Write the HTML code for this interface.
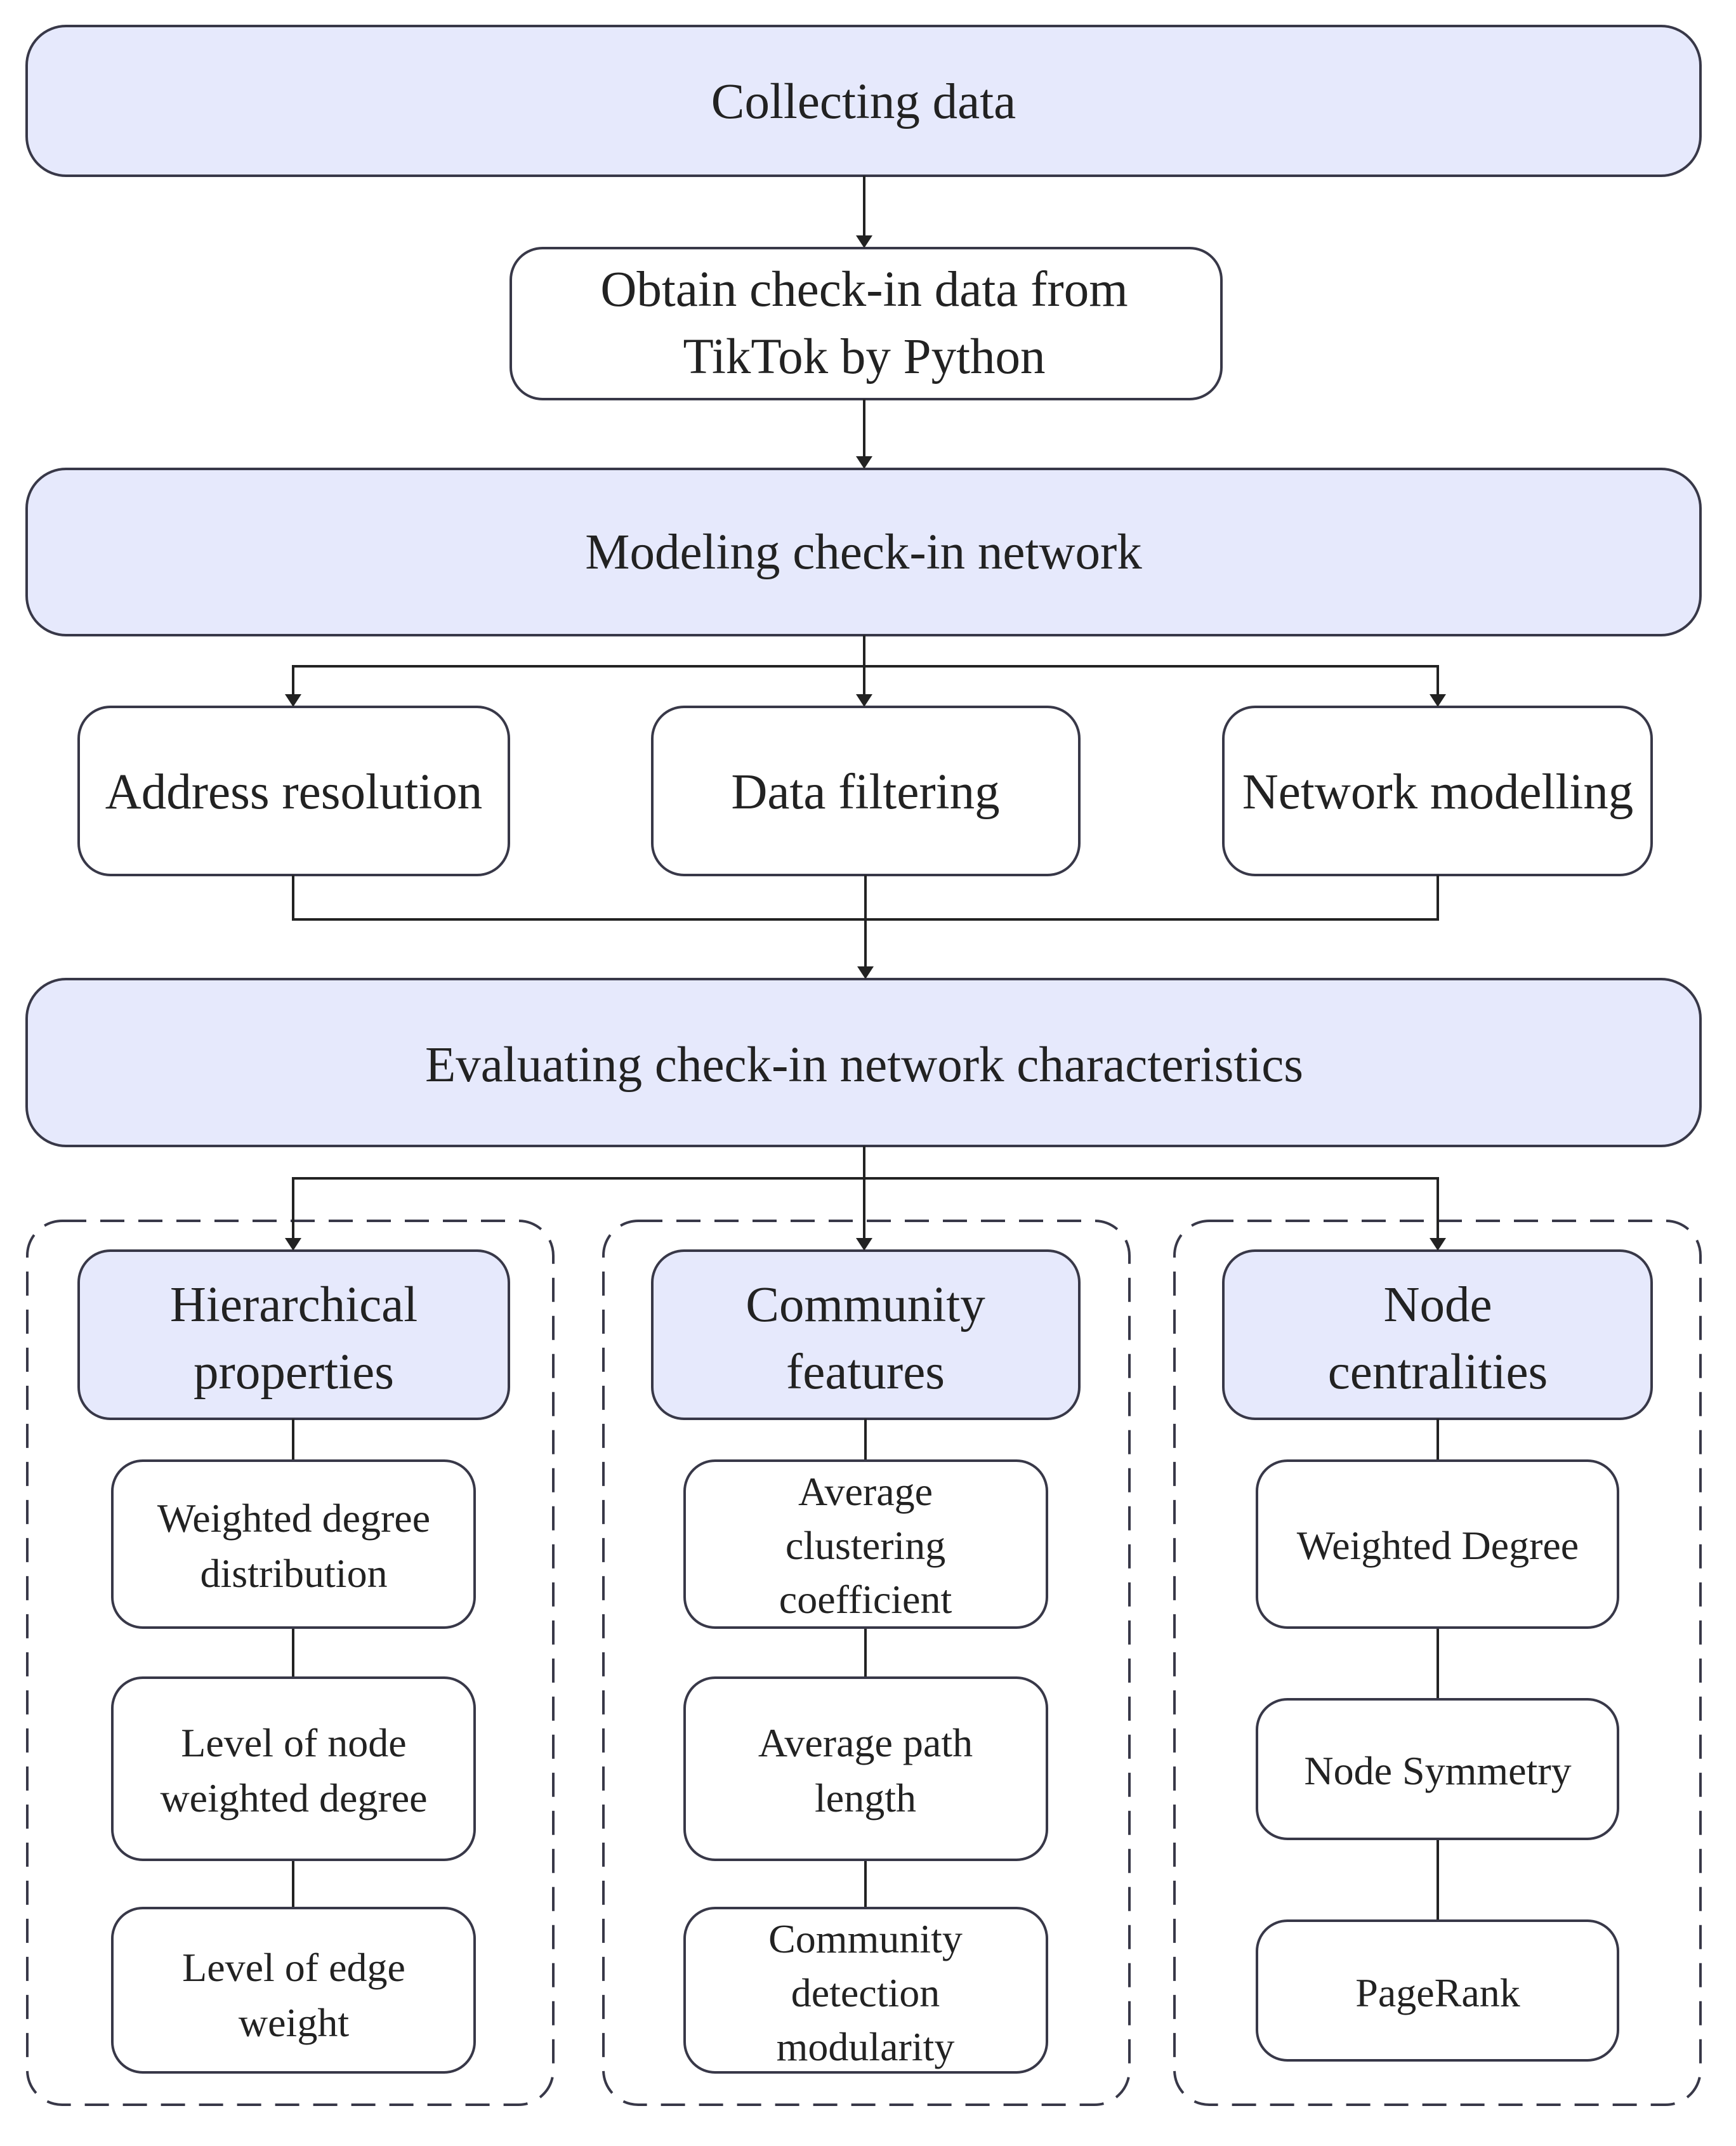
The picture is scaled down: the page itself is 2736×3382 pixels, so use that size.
<!DOCTYPE html>
<html><head><meta charset="utf-8"><style>
html,body{margin:0;padding:0;background:#fff;}
svg{display:block;}
text{font-family:"Liberation Serif",serif;fill:#222;text-anchor:middle;}
</style></head><body>
<svg width="2736" height="3382" viewBox="0 0 2736 3382" xmlns="http://www.w3.org/2000/svg">
<g stroke="#383848" stroke-width="4">
<rect x="42" y="41" width="2638" height="236" rx="62" fill="#e6e9fc"/>
<rect x="805" y="391" width="1120" height="238" rx="50" fill="#fff"/>
<rect x="42" y="739" width="2638" height="262" rx="62" fill="#e6e9fc"/>
<rect x="124" y="1114" width="678" height="265" rx="50" fill="#fff"/>
<rect x="1028" y="1114" width="673" height="265" rx="50" fill="#fff"/>
<rect x="1928" y="1114" width="675" height="265" rx="50" fill="#fff"/>
<rect x="42" y="1543" width="2638" height="263" rx="62" fill="#e6e9fc"/>
<g fill="none" stroke-dasharray="38,22">
<rect x="43" y="1924" width="829" height="1393" rx="55"/>
<rect x="951" y="1924" width="829" height="1393" rx="55"/>
<rect x="1851" y="1924" width="829" height="1393" rx="55"/>
</g>
<rect x="124" y="1971" width="678" height="265" rx="50" fill="#e6e9fc"/>
<rect x="1028" y="1971" width="673" height="265" rx="50" fill="#e6e9fc"/>
<rect x="1928" y="1971" width="675" height="265" rx="50" fill="#e6e9fc"/>
<g fill="none" stroke-width="4" stroke="#222">
<line x1="1362" y1="277" x2="1362" y2="378"/>
<line x1="1362" y1="629" x2="1362" y2="726"/>
<line x1="1362" y1="1001" x2="1362" y2="1100"/>
<polyline points="462,1100 462,1050 2266,1050 2266,1100"/>
<polyline points="462,1379 462,1449 2266,1449 2266,1379"/>
<line x1="1364" y1="1379" x2="1364" y2="1530"/>
<line x1="1362" y1="1806" x2="1362" y2="1957"/>
<polyline points="462,1957 462,1857 2266,1857 2266,1957"/>
<line x1="462" y1="2236" x2="462" y2="3010"/>
<line x1="1364" y1="2236" x2="1364" y2="3010"/>
<line x1="2266" y1="2236" x2="2266" y2="3030"/>
</g>
<rect x="177" y="2302" width="571" height="263" rx="48" fill="#fff"/>
<rect x="177" y="2644" width="571" height="287" rx="48" fill="#fff"/>
<rect x="177" y="3007" width="571" height="259" rx="48" fill="#fff"/>
<rect x="1079" y="2302" width="571" height="263" rx="48" fill="#fff"/>
<rect x="1079" y="2644" width="571" height="287" rx="48" fill="#fff"/>
<rect x="1079" y="3007" width="571" height="259" rx="48" fill="#fff"/>
<rect x="1981" y="2302" width="569" height="263" rx="48" fill="#fff"/>
<rect x="1981" y="2678" width="569" height="220" rx="48" fill="#fff"/>
<rect x="1981" y="3027" width="569" height="220" rx="48" fill="#fff"/>
</g>
<g fill="#222">
<polygon points="1349,371 1375,371 1362,391"/>
<polygon points="1349,719 1375,719 1362,739"/>
<polygon points="449,1094 475,1094 462,1114"/>
<polygon points="1349,1094 1375,1094 1362,1114"/>
<polygon points="2253,1094 2279,1094 2266,1114"/>
<polygon points="1351,1523 1377,1523 1364,1543"/>
<polygon points="449,1951 475,1951 462,1971"/>
<polygon points="1349,1951 1375,1951 1362,1971"/>
<polygon points="2253,1951 2279,1951 2266,1971"/>
</g>
<g font-size="79">
<text x="1361" y="186">Collecting data</text>
<text x="1362" y="482">Obtain check-in data from</text>
<text x="1362" y="588">TikTok by Python</text>
<text x="1361" y="896">Modeling check-in network</text>
<text x="463" y="1274">Address resolution</text>
<text x="1364" y="1274">Data filtering</text>
<text x="2266" y="1274">Network modelling</text>
<text x="1362" y="1704">Evaluating check-in network characteristics</text>
<text x="463" y="2082">Hierarchical</text>
<text x="463" y="2188">properties</text>
<text x="1364" y="2082">Community</text>
<text x="1364" y="2188">features</text>
<text x="2266" y="2082">Node</text>
<text x="2266" y="2188">centralities</text>
</g>
<g font-size="64">
<text x="463" y="2414">Weighted degree</text>
<text x="463" y="2501">distribution</text>
<text x="463" y="2768">Level of node</text>
<text x="463" y="2855">weighted degree</text>
<text x="463" y="3122">Level of edge</text>
<text x="463" y="3209">weight</text>
<text x="1364" y="2372">Average</text>
<text x="1364" y="2457">clustering</text>
<text x="1364" y="2542">coefficient</text>
<text x="1364" y="2768">Average path</text>
<text x="1364" y="2855">length</text>
<text x="1364" y="3077">Community</text>
<text x="1364" y="3162">detection</text>
<text x="1364" y="3247">modularity</text>
<text x="2266" y="2457">Weighted Degree</text>
<text x="2266" y="2812">Node Symmetry</text>
<text x="2266" y="3162">PageRank</text>
</g>
</svg>
</body></html>
